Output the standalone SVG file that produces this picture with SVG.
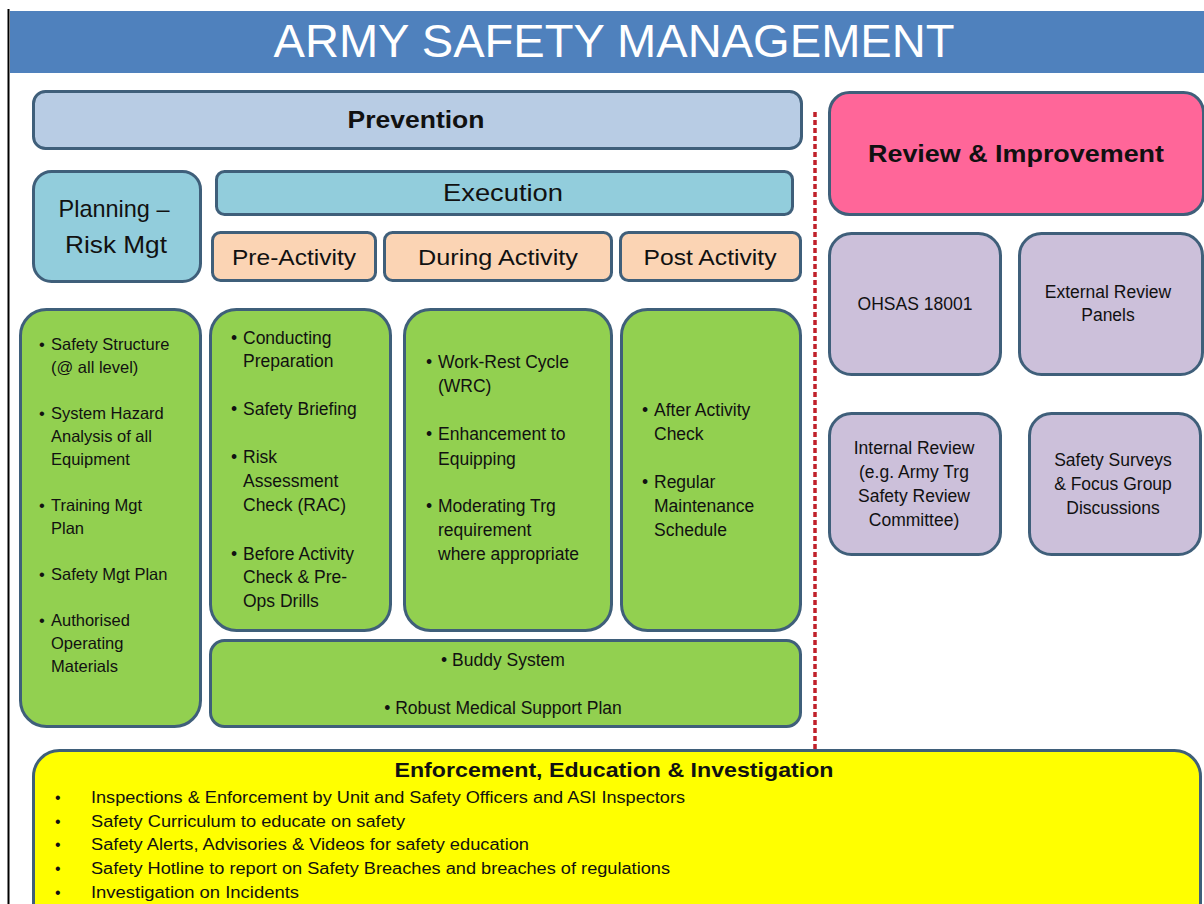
<svg xmlns="http://www.w3.org/2000/svg" width="1204" height="904" viewBox="0 0 1204 904">
<style>
text{font-family:"Liberation Sans",Arial,sans-serif;fill:#111}
.box{stroke:#3F5F7A;stroke-width:3}
.prev{fill:#B8CCE4}
.blue{fill:#92CDDC}
.peach{fill:#FBD4B4}
.green{fill:#92D050}
.lav{fill:#CCC0DA}
.pink{fill:#FF6699}
.yel{fill:#FFFF00}
.h{font-size:24px;font-weight:bold}
.s{font-size:24px}
.m{font-size:22px}
.g{font-size:16.5px}
.g2{font-size:17.5px}
.c{text-anchor:middle}
.y{font-size:16px}
</style>
<rect x="0" y="0" width="1204" height="904" fill="#fff"/>
<line x1="8.5" y1="9" x2="8.5" y2="904" stroke="#000" stroke-width="2"/>
<g id="title">
<rect x="10" y="11" width="1194" height="62" fill="#4F81BD"/>
<text x="614" y="57" class="c" style="font-size:46px;fill:#fff" textLength="681" lengthAdjust="spacingAndGlyphs">ARMY SAFETY MANAGEMENT</text>
</g>
<g id="connectors">
<line x1="815" y1="112" x2="815" y2="750" stroke="#C0202A" stroke-width="3.5" stroke-dasharray="5,3"/>
</g>
<g id="prevention">
<rect class="box prev" x="33.5" y="91.5" width="768" height="57" rx="12"/>
<text x="416" y="128" class="c h" textLength="137" lengthAdjust="spacingAndGlyphs">Prevention</text>
</g>
<g id="review">
<rect class="box pink" x="829.5" y="92.5" width="374" height="122" rx="20"/>
<text x="1016" y="162" class="c h" textLength="296" lengthAdjust="spacingAndGlyphs">Review &amp; Improvement</text>
</g>
<g id="planning">
<rect class="box blue" x="33.5" y="171.5" width="167" height="110" rx="18"/>
<text x="114" y="217" class="c s" textLength="111" lengthAdjust="spacingAndGlyphs">Planning –</text>
<text x="116" y="253" class="c s" textLength="102" lengthAdjust="spacingAndGlyphs">Risk Mgt</text>
</g>
<g id="execution">
<rect class="box blue" x="216.5" y="171.5" width="576" height="43" rx="8"/>
<text x="503" y="201" class="c s" textLength="120" lengthAdjust="spacingAndGlyphs">Execution</text>
</g>
<g id="pre-activity">
<rect class="box peach" x="212.5" y="232.5" width="163" height="48" rx="8"/>
<text x="294" y="265" class="c m" textLength="124" lengthAdjust="spacingAndGlyphs">Pre-Activity</text>
</g>
<g id="during-activity">
<rect class="box peach" x="384.5" y="232.5" width="227" height="48" rx="8"/>
<text x="498" y="265" class="c m" textLength="160" lengthAdjust="spacingAndGlyphs">During Activity</text>
</g>
<g id="post-activity">
<rect class="box peach" x="620.5" y="232.5" width="180" height="48" rx="8"/>
<text x="710" y="265" class="c m" textLength="133" lengthAdjust="spacingAndGlyphs">Post Activity</text>
</g>
<g id="planning-items">
<rect class="box green" x="20.5" y="309.5" width="180" height="417" rx="26"/>
<g class="g">
<text x="39" y="350">•</text>
<text x="51" y="350">Safety Structure</text>
<text x="51" y="373">(@ all level)</text>
<text x="39" y="419">•</text>
<text x="51" y="419">System Hazard</text>
<text x="51" y="442">Analysis of all</text>
<text x="51" y="465">Equipment</text>
<text x="39" y="511">•</text>
<text x="51" y="511">Training Mgt</text>
<text x="51" y="534">Plan</text>
<text x="39" y="580">•</text>
<text x="51" y="580">Safety Mgt Plan</text>
<text x="39" y="626">•</text>
<text x="51" y="626">Authorised</text>
<text x="51" y="649">Operating</text>
<text x="51" y="672">Materials</text>
</g>
</g>
<g id="pre-activity-items">
<rect class="box green" x="210.5" y="309.5" width="180" height="321" rx="26"/>
<g class="g2">
<text x="231" y="344">•</text>
<text x="243" y="344">Conducting</text>
<text x="243" y="367">Preparation</text>
<text x="231" y="415">•</text>
<text x="243" y="415">Safety Briefing</text>
<text x="231" y="463">•</text>
<text x="243" y="463">Risk</text>
<text x="243" y="487">Assessment</text>
<text x="243" y="511">Check (RAC)</text>
<text x="231" y="560">•</text>
<text x="243" y="560">Before Activity</text>
<text x="243" y="583">Check &amp; Pre-</text>
<text x="243" y="607">Ops Drills</text>
</g>
</g>
<g id="during-activity-items">
<rect class="box green" x="404.5" y="309.5" width="207" height="321" rx="26"/>
<g class="g2">
<text x="426" y="368">•</text>
<text x="438" y="368">Work-Rest Cycle</text>
<text x="438" y="392">(WRC)</text>
<text x="426" y="440">•</text>
<text x="438" y="440">Enhancement to</text>
<text x="438" y="465">Equipping</text>
<text x="426" y="512">•</text>
<text x="438" y="512">Moderating Trg</text>
<text x="438" y="536">requirement</text>
<text x="438" y="560">where appropriate</text>
</g>
</g>
<g id="post-activity-items">
<rect class="box green" x="621.5" y="309.5" width="179" height="321" rx="26"/>
<g class="g2">
<text x="642" y="416">•</text>
<text x="654" y="416">After Activity</text>
<text x="654" y="440">Check</text>
<text x="642" y="488">•</text>
<text x="654" y="488">Regular</text>
<text x="654" y="512">Maintenance</text>
<text x="654" y="536">Schedule</text>
</g>
</g>
<g id="common-items">
<rect class="box green" x="210.5" y="640.5" width="590" height="86" rx="14"/>
<text x="503" y="666" class="c g2">• Buddy System</text>
<text x="503" y="714" class="c g2">• Robust Medical Support Plan</text>
</g>
<g id="ohsas">
<rect class="box lav" x="829.5" y="233.5" width="171" height="141" rx="22"/>
<text x="915" y="310" class="c g2">OHSAS 18001</text>
</g>
<g id="external-review">
<rect class="box lav" x="1019.5" y="233.5" width="183" height="141" rx="22"/>
<text x="1108" y="298" class="c g2">External Review</text>
<text x="1108" y="321" class="c g2">Panels</text>
</g>
<g id="internal-review">
<rect class="box lav" x="829.5" y="413.5" width="171" height="141" rx="22"/>
<text x="914" y="454" class="c g2">Internal Review</text>
<text x="914" y="478" class="c g2">(e.g. Army Trg</text>
<text x="914" y="502" class="c g2">Safety Review</text>
<text x="914" y="526" class="c g2">Committee)</text>
</g>
<g id="surveys">
<rect class="box lav" x="1029.5" y="413.5" width="171" height="141" rx="22"/>
<text x="1113" y="466" class="c g2">Safety Surveys</text>
<text x="1113" y="490" class="c g2">&amp; Focus Group</text>
<text x="1113" y="514" class="c g2">Discussions</text>
</g>
<g id="enforcement">
<rect class="box yel" x="33.5" y="750.5" width="1167" height="180" rx="26"/>
<text x="614" y="777" class="c" style="font-size:21px;font-weight:bold" textLength="439" lengthAdjust="spacingAndGlyphs">Enforcement, Education &amp; Investigation</text>
<g class="y">
<text x="55" y="803">•</text>
<text x="91" y="803" textLength="594" lengthAdjust="spacingAndGlyphs">Inspections &amp; Enforcement by Unit and Safety Officers and ASI Inspectors</text>
<text x="55" y="827">•</text>
<text x="91" y="827" textLength="314" lengthAdjust="spacingAndGlyphs">Safety Curriculum to educate on safety</text>
<text x="55" y="850">•</text>
<text x="91" y="850" textLength="438" lengthAdjust="spacingAndGlyphs">Safety Alerts, Advisories &amp; Videos for safety education</text>
<text x="55" y="874">•</text>
<text x="91" y="874" textLength="579" lengthAdjust="spacingAndGlyphs">Safety Hotline to report on Safety Breaches and breaches of regulations</text>
<text x="55" y="898">•</text>
<text x="91" y="898" textLength="208" lengthAdjust="spacingAndGlyphs">Investigation on Incidents</text>
</g>
</g>
</svg>
